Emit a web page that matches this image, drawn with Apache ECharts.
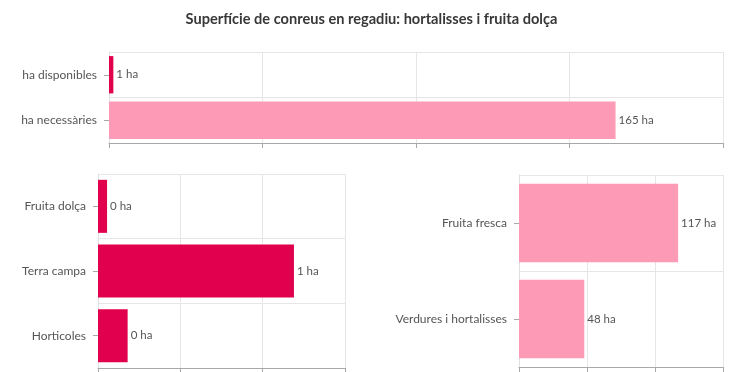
<!DOCTYPE html>
<html><head><meta charset="utf-8">
<script src="https://cdn.jsdelivr.net/npm/echarts@6/dist/echarts.min.js"></script>
<style>html,body{margin:0;padding:0;background:#fff}#c{width:743px;height:372px}</style>
</head><body><div id="c"></div>
<script>
var titleText = 'Superfície de conreus en regadiu: hortalisses i fruita dolça';
var topCategories = ['ha disponibles', 'ha necessàries'];
var topValues = [1.42, 165];
var leftCategories = ['Fruita dolça', 'Terra campa', 'Horticoles'];
var leftValues = [0.055, 1.19, 0.18];
var rightCategories = ['Fruita fresca', 'Verdures i hortalisses'];
var rightValues = [117, 48];

var DARK = '#e0004d', PINK = '#fd9bb6';
var FONT = 'Lato, "Open Sans", sans-serif';

function xAx(idx, max, interval) {
  return {
    gridIndex: idx, type: 'value', min: 0, max: max, interval: interval,
    axisLabel: {show: false},
    axisLine: {show: true, lineStyle: {color: '#a8a8a8'}},
    axisTick: {show: true, length: 5, lineStyle: {color: '#a8a8a8'}},
    splitLine: {show: true, lineStyle: {color: '#e6e6e6'}}
  };
}
function yAx(idx, cats) {
  return {
    gridIndex: idx, type: 'category', data: cats, inverse: true,
    axisLabel: {color: '#555', fontSize: 12, fontFamily: FONT, margin: 12},
    axisLine: {show: true, lineStyle: {color: '#e0e0e0'}},
    axisTick: {show: true, alignWithLabel: true, length: 5, lineStyle: {color: '#a8a8a8'}},
    splitLine: {show: true, lineStyle: {color: '#e6e6e6'}}
  };
}
function lbl() {
  return {show: true, position: 'right', distance: 3, color: '#555', fontSize: 11.5, fontFamily: FONT,
    formatter: function (p) { return Math.round(p.value) + ' ha'; }};
}

var chart = echarts.init(document.getElementById('c'), null, {renderer: 'canvas'});
chart.setOption({
  animation: false,
  title: {text: titleText, left: 'center', top: 7,
    textStyle: {fontSize: 14.6, fontWeight: 'bold', color: '#383838', fontFamily: FONT}},
  grid: [
    {left: 109, right: 20, top: 52, height: 91},
    {left: 98, width: 247, top: 174, height: 194},
    {left: 519, width: 204, top: 175, height: 192}
  ],
  xAxis: [xAx(0, 200, 50), xAx(1, 1.5, 0.5), xAx(2, 150, 50)],
  yAxis: [yAx(0, topCategories), yAx(1, leftCategories), yAx(2, rightCategories)],
  series: [
    {type: 'bar', xAxisIndex: 0, yAxisIndex: 0, barCategoryGap: '18%',
      data: topValues.map(function (v, i) { return {value: v, itemStyle: {color: i === 0 ? DARK : PINK}}; }),
      label: lbl()},
    {type: 'bar', xAxisIndex: 1, yAxisIndex: 1, barCategoryGap: '18%',
      itemStyle: {color: DARK}, data: leftValues, label: lbl()},
    {type: 'bar', xAxisIndex: 2, yAxisIndex: 2, barCategoryGap: '18%',
      itemStyle: {color: PINK}, data: rightValues, label: lbl()}
  ]
});
</script></body></html>
